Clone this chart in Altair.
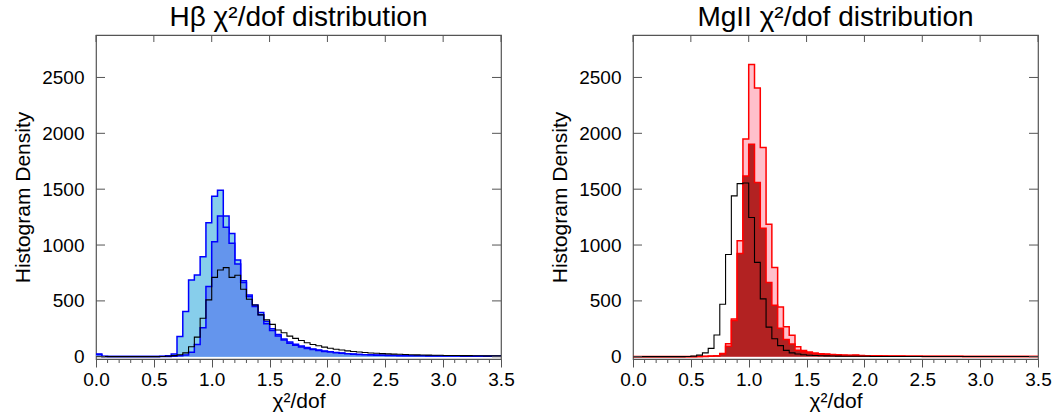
import altair as alt
import pandas as pd

# ---------------- data (bin width 0.05, bins start at 0.00 ... 3.45) ----------------
bin_start = [round(0.05 * k, 2) for k in range(70)]

hb_sky = [25, 4, 3, 3, 3, 3, 3, 3, 3, 3,
          3, 5, 8, 25, 182, 405, 687, 732, 896, 1199,
          1437, 1491, 1259, 1104, 866, 681, 553, 464, 396, 315,
          250, 200, 160, 132, 112, 96, 82, 70, 60, 52,
          45, 38, 33, 28, 24, 21, 19, 17, 15, 14,
          13, 12, 11, 10, 10, 9, 9, 8, 8, 7,
          7, 7, 6, 6, 6, 5, 5, 5, 5, 4]
hb_corn = [20, 3, 2, 2, 2, 2, 2, 2, 2, 2,
           2, 2, 3, 5, 8, 15, 40, 110, 260, 630,
           1030, 1260, 1160, 1015, 830, 665, 540, 450, 375, 295,
           235, 185, 150, 122, 102, 88, 75, 64, 55, 48,
           42, 36, 31, 27, 23, 20, 18, 16, 14, 13,
           12, 11, 10, 9, 9, 8, 8, 7, 7, 7,
           6, 6, 6, 5, 5, 5, 5, 4, 4, 4]
hb_black = [2, 1, 1, 1, 1, 1, 1, 1, 1, 1,
            1, 2, 5, 10, 18, 35, 90, 176, 345, 509,
            711, 777, 798, 711, 729, 604, 515, 464, 375, 330,
            290, 240, 215, 185, 165, 145, 125, 110, 98, 86,
            76, 67, 60, 53, 47, 42, 38, 34, 31, 28,
            26, 24, 22, 20, 18, 17, 16, 15, 14, 13,
            12, 11, 11, 10, 10, 9, 9, 8, 8, 8]

mg_pink = [2, 2, 2, 2, 2, 2, 2, 2, 2, 2,
           2, 3, 4, 6, 10, 30, 116, 339, 1039, 1950,
           2616, 2405, 1872, 1187, 800, 445, 268, 193, 90, 55,
           42, 34, 28, 25, 21, 18, 16, 14, 15, 12,
           10, 9, 8, 7, 7, 6, 6, 5, 5, 5,
           5, 4, 4, 4, 4, 4, 4, 3, 3, 3,
           3, 3, 3, 3, 3, 3, 3, 3, 3, 3]
mg_fire = [1, 1, 1, 1, 1, 1, 1, 1, 1, 1,
           1, 2, 3, 5, 8, 25, 95, 325, 925, 1619,
           1902, 1559, 1150, 665, 460, 255, 155, 115, 58, 45,
           35, 28, 23, 20, 17, 14, 12, 11, 12, 10,
           8, 7, 6, 6, 5, 5, 4, 4, 4, 4,
           3, 3, 3, 3, 3, 3, 3, 2, 2, 2,
           2, 2, 2, 2, 2, 2, 2, 2, 2, 2]
mg_black = [1, 1, 1, 1, 1, 1, 1, 1, 1, 2,
            6, 15, 35, 75, 195, 470, 915, 1440, 1550, 1555,
            1247, 845, 518, 265, 161, 100, 57, 35, 25, 18,
            14, 11, 9, 8, 7, 6, 5, 5, 4, 4,
            4, 3, 3, 3, 3, 3, 2, 2, 2, 2,
            2, 2, 2, 2, 2, 2, 2, 2, 2, 2,
            2, 2, 2, 2, 2, 2, 2, 2, 2, 2]

x_major = [0.0, 0.5, 1.0, 1.5, 2.0, 2.5, 3.0, 3.5]
x_minor = [0.1, 0.2, 0.3, 0.4, 0.6, 0.7, 0.8, 0.9, 1.1, 1.2, 1.3, 1.4,
           1.6, 1.7, 1.8, 1.9, 2.1, 2.2, 2.3, 2.4, 2.6, 2.7, 2.8, 2.9,
           3.1, 3.2, 3.3, 3.4]
y_major = [0, 500, 1000, 1500, 2000, 2500]

W, H = 405, 324
FONT = "Liberation Sans"
AXC = "#555555"
xscale = alt.Scale(domain=[0, 3.5], nice=False, zero=False)
yscale = alt.Scale(domain=[-20, 2880], nice=False, zero=False)

X_ENC = alt.X("x:Q", scale=xscale, title="χ²/dof",
              axis=alt.Axis(values=x_major, format=".1f", grid=False, domain=False,
                            tickSize=8, tickColor=AXC, labelPadding=3,
                            labelFlush=False, labelOverlap=False,
                            labelFontSize=19, labelFont=FONT, labelColor="black",
                            titleFontSize=21, titleFont=FONT, titleFontWeight="normal",
                            titleColor="black", titlePadding=1))
Y_ENC = alt.Y("y:Q", scale=yscale, title="Histogram Density",
              axis=alt.Axis(values=y_major, format="d", grid=False, domain=False,
                            ticks=False, labelFlush=False, labelOverlap=False,
                            labelPadding=12, labelFontSize=19, labelFont=FONT,
                            labelColor="black", titleFontSize=21, titleFont=FONT,
                            titleFontWeight="normal", titleColor="black",
                            titlePadding=8))


def steps(vals):
    return pd.DataFrame({"x": bin_start + [3.5], "y": list(vals) + [vals[-1]]})


def hist(vals, fill, stroke, sw):
    base = alt.Chart(steps(vals))
    out = []
    if fill:
        out.append(base.mark_area(interpolate="step-after", color=fill, opacity=1)
                   .encode(x=X_ENC, y=Y_ENC, y2=alt.datum(0)))
    out.append(base.mark_line(interpolate="step-after", color=stroke, strokeWidth=sw)
               .encode(x=X_ENC, y=Y_ENC))
    return out


def ticks():
    ym = alt.Chart(pd.DataFrame({"y": y_major}))
    xm = alt.Chart(pd.DataFrame({"x": x_major}))
    xn = alt.Chart(pd.DataFrame({"x": x_minor}))
    return [
        ym.mark_rule(color=AXC).encode(y=Y_ENC, x=alt.value(0), x2=alt.value(9)),
        ym.mark_rule(color=AXC).encode(y=Y_ENC, x=alt.value(W - 9), x2=alt.value(W)),
        xm.mark_rule(color=AXC).encode(x=X_ENC, y=alt.value(0), y2=alt.value(7)),
        xn.mark_rule(color=AXC).encode(x=X_ENC, y=alt.value(H), y2=alt.value(H + 4)),
    ]


def panel(title, series):
    layers = []
    for vals, fill, stroke, sw in series:
        layers += hist(vals, fill, stroke, sw)
    layers += ticks()
    return alt.layer(*layers).properties(
        width=W, height=H,
        title=alt.TitleParams(title, fontSize=28, font=FONT, fontWeight="normal",
                              color="black", anchor="middle", offset=3))


left = panel("Hβ χ²/dof distribution", [
    (hb_sky, "#87CEEB", "#0000FF", 1.5),
    (hb_corn, "#6495ED", "#0000FF", 1.5),
    (hb_black, None, "#000000", 1.1),
])
right = panel("MgII χ²/dof distribution", [
    (mg_pink, "#FFC0CB", "#FF0000", 1.5),
    (mg_fire, "#B22222", "#FF0000", 1.5),
    (mg_black, None, "#000000", 1.1),
])

chart = alt.hconcat(left, right, spacing=132, bounds="flush").properties(
    padding={"left": 12, "top": 2, "right": 6, "bottom": 4},
    background="white",
).configure_view(stroke=AXC, strokeWidth=1.2)

chart.save("out.html", embed_options={"renderer": "svg", "actions": False})
